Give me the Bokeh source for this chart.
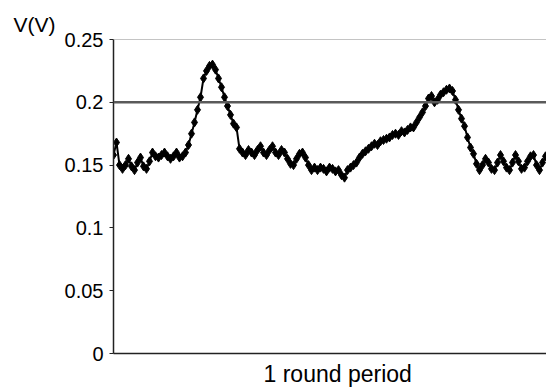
from bokeh.plotting import figure
from bokeh.models import Span, Title, FixedTicker, Range1d
from bokeh.embed import file_html
from bokeh.resources import INLINE

# Voltage samples over one round period (V)
voltage = [
    0.158, 0.168, 0.150, 0.147, 0.150, 0.155, 0.149, 0.146, 0.152, 0.156,
    0.149, 0.147, 0.153, 0.160, 0.157, 0.156, 0.158, 0.160, 0.157, 0.155,
    0.157, 0.160, 0.156, 0.157, 0.160,
    0.166, 0.175, 0.184, 0.194, 0.204, 0.219, 0.225, 0.229, 0.230, 0.226,
    0.219, 0.212, 0.204, 0.197, 0.190, 0.183, 0.180, 0.163,
    0.160, 0.158, 0.162, 0.160, 0.158, 0.162, 0.165, 0.160, 0.158, 0.162,
    0.165, 0.160, 0.158, 0.162, 0.160, 0.155, 0.151, 0.150, 0.155, 0.159,
    0.160, 0.156, 0.150, 0.146, 0.148, 0.146, 0.148, 0.147, 0.145, 0.148,
    0.147, 0.145, 0.146, 0.142, 0.140, 0.146, 0.148, 0.150, 0.152, 0.156,
    0.159, 0.161, 0.163, 0.165, 0.167, 0.166, 0.169, 0.170, 0.171, 0.172,
    0.174, 0.175, 0.174, 0.177, 0.176, 0.178, 0.180, 0.180, 0.184, 0.188,
    0.192, 0.197, 0.203, 0.205, 0.200, 0.202, 0.206, 0.208, 0.210, 0.211,
    0.209, 0.202, 0.194, 0.187, 0.181, 0.172, 0.164, 0.159, 0.151, 0.146,
    0.150, 0.155, 0.152, 0.147, 0.146, 0.152, 0.158, 0.153, 0.148, 0.146,
    0.152, 0.158, 0.153, 0.147, 0.148, 0.153, 0.157, 0.158, 0.150, 0.146,
    0.152, 0.157,
]
sample = list(range(len(voltage)))

y_ticks = [0, 0.05, 0.1, 0.15, 0.2, 0.25]
y_tick_labels = ["0", "0.05", "0.1", "0.15", "0.2", "0.25"]
threshold = 0.2
y_title = "V(V)"
x_title = "1 round period"

FONT = "Liberation Sans"

p = figure(width=546, height=392, output_backend="svg", toolbar_location=None,
           x_range=Range1d(0, len(voltage) - 1 + 0.33), y_range=Range1d(0, 0.25),
           min_border_left=113, min_border_right=0, min_border_top=39,
           min_border_bottom=39)
p.outline_line_color = None
p.xgrid.visible = False
p.ygrid.visible = False
p.background_fill_color = "white"
p.border_fill_color = "white"

# y axis
ya = p.yaxis[0]
ya.ticker = FixedTicker(ticks=y_ticks)
ya.major_label_overrides = {t: l for t, l in zip(y_ticks, y_tick_labels)}
ya.major_label_text_font = FONT
ya.major_label_text_font_size = "20px"
ya.major_label_text_color = "black"
ya.major_tick_in = 0
ya.major_tick_out = 4
ya.minor_tick_line_color = None
ya.axis_line_color = "#222222"
ya.axis_line_width = 1.5
ya.major_tick_line_color = "#222222"
ya.major_label_standoff = 6

# x axis (no ticks)
xa = p.xaxis[0]
xa.ticker = FixedTicker(ticks=[])
xa.major_tick_line_color = None
xa.minor_tick_line_color = None
xa.major_tick_out = 0
xa.major_label_standoff = 0
xa.axis_line_color = "#222222"
xa.axis_line_width = 1.5

# reference lines
p.add_layout(Span(location=0.25, dimension="width", line_color="#8a8a8a", line_width=1))
p.add_layout(Span(location=threshold, dimension="width", line_color="#5a5a5a", line_width=2.5))

p.line(sample, voltage, line_color="black", line_width=2)
p.scatter(sample, voltage, marker="diamond", size=9, fill_color="black", line_color="black")

# axis titles
p.add_layout(Title(text=y_title, align="left", offset=-100, standoff=7,
                   text_font=FONT, text_font_size="21px", text_font_style="normal",
                   text_color="black"), "above")
p.add_layout(Title(text=x_title, align="left", offset=150, standoff=11,
                   text_font=FONT, text_font_size="23px", text_font_style="normal",
                   text_color="black"), "below")

open("out.html", "w").write(file_html(p, INLINE))
